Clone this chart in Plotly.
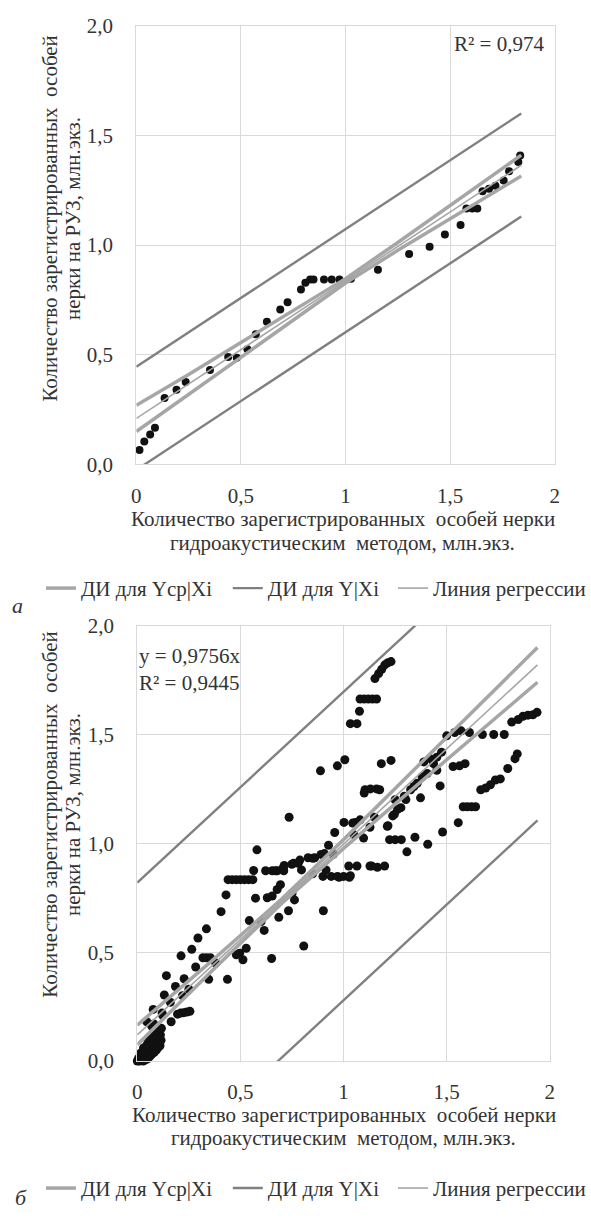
import plotly.graph_objects as go

# ---------------- panel (а) ----------------
x_a = [0.015, 0.038, 0.066, 0.089, 0.135, 0.192, 0.236, 0.352, 0.439, 0.48, 0.531,
       0.571, 0.624, 0.688, 0.723, 0.787, 0.808, 0.831, 0.847, 0.897, 0.934, 0.971,
       1.026, 1.155, 1.304, 1.402, 1.475, 1.55, 1.578, 1.606, 1.63, 1.655, 1.686,
       1.717, 1.756, 1.782, 1.826, 1.835]
y_a = [0.066, 0.105, 0.136, 0.167, 0.303, 0.340, 0.376, 0.431, 0.49, 0.486, 0.525,
       0.594, 0.651, 0.706, 0.739, 0.798, 0.828, 0.843, 0.843, 0.843, 0.843, 0.843,
       0.847, 0.888, 0.959, 0.992, 1.048, 1.092, 1.167, 1.167, 1.167, 1.245, 1.257,
       1.271, 1.294, 1.336, 1.379, 1.408]

# confidence band for the mean response (upper / lower)
ci_x_a = [0, 0.25, 0.5, 0.75, 1.0, 1.25, 1.5, 1.84]
ci_up_a = [0.27, 0.41, 0.556, 0.70, 0.847, 1.012, 1.18, 1.41]
ci_lo_a = [0.15, 0.32, 0.49, 0.66, 0.827, 0.976, 1.12, 1.315]
# prediction band for individual values
pi_x_a = [0, 1.84]
pi_up_a = [0.445, 1.60]
pi_lo_a = [-0.025, 1.13]
# fitted regression line
reg_x_a = [0, 1.84]
reg_y_a = [0.21, 1.364]

# ---------------- panel (б) ----------------
pts_b = [
    (0.00, 0.00), (0.005, 0.01), (0.01, 0.0), (0.012, 0.02), (0.018, 0.005), (0.02, 0.015),
    (0.025, 0.03), (0.028, 0.0), (0.03, 0.01), (0.035, 0.02), (0.038, 0.04), (0.04, 0.005),
    (0.045, 0.025), (0.048, 0.05), (0.05, 0.01), (0.055, 0.035), (0.058, 0.06), (0.06, 0.02),
    (0.065, 0.045), (0.068, 0.07), (0.07, 0.03), (0.075, 0.055), (0.08, 0.08), (0.082, 0.04),
    (0.085, 0.065), (0.09, 0.09), (0.092, 0.05), (0.095, 0.075), (0.10, 0.10), (0.10, 0.06),
    (0.105, 0.085), (0.108, 0.11), (0.11, 0.07), (0.112, 0.12), (0.115, 0.095), (0.03, 0.06),
    (0.05, 0.08), (0.06, 0.10), (0.07, 0.11), (0.08, 0.12), (0.015, 0.035), (0.04, 0.065),
    (0.046, 0.18), (0.07, 0.16), (0.09, 0.14), (0.117, 0.15), (0.123, 0.21), (0.077, 0.237),
    (0.164, 0.18), (0.131, 0.303), (0.141, 0.392), (0.185, 0.342), (0.219, 0.30), (0.227, 0.378),
    (0.195, 0.215), (0.21, 0.22), (0.225, 0.222), (0.24, 0.225), (0.255, 0.228), (0.212, 0.483),
    (0.264, 0.513), (0.283, 0.432), (0.294, 0.565), (0.335, 0.607), (0.318, 0.474), (0.336, 0.474),
    (0.354, 0.474), (0.346, 0.375), (0.406, 0.686), (0.43, 0.763), (0.437, 0.375), (0.44, 0.833),
    (0.46, 0.833), (0.48, 0.833), (0.50, 0.833), (0.52, 0.833), (0.54, 0.833), (0.56, 0.833),
    (0.48, 0.488), (0.496, 0.495), (0.512, 0.465), (0.528, 0.518), (0.543, 0.645), (0.564, 0.875),
    (0.573, 0.748), (0.58, 0.97), (0.615, 0.60), (0.622, 0.874), (0.651, 0.471), (0.654, 0.874),
    (0.67, 0.874), (0.678, 0.874), (0.71, 0.874), (0.63, 0.75), (0.654, 0.758), (0.678, 0.788),
    (0.694, 0.81), (0.686, 0.66), (0.706, 0.886), (0.712, 0.898), (0.733, 0.69), (0.736, 1.12),
    (0.749, 0.904), (0.757, 0.908), (0.762, 0.74), (0.78, 0.908), (0.788, 0.923), (0.796, 0.878),
    (0.807, 0.528), (0.828, 0.934), (0.851, 0.931), (0.86, 0.934), (0.888, 1.333), (0.891, 0.949),
    (0.90, 0.848), (0.902, 0.69), (0.907, 0.953), (0.915, 0.878), (0.927, 0.991), (0.94, 0.848),
    (0.957, 1.05), (0.97, 1.356), (0.97, 0.848), (0.978, 0.844), (1.0, 0.848), (1.002, 1.096),
    (1.006, 1.384), (1.025, 0.896), (1.028, 0.844), (1.033, 0.851), (1.033, 1.55), (1.044, 1.093),
    (1.057, 1.096), (1.065, 0.896), (1.065, 1.55), (1.077, 1.607), (1.08, 1.663), (1.10, 1.663),
    (1.12, 1.663), (1.14, 1.663), (1.16, 1.663), (1.08, 1.108), (1.097, 1.024), (1.10, 1.231),
    (1.104, 1.246), (1.128, 1.074), (1.128, 0.896), (1.13, 1.25), (1.136, 0.896), (1.152, 1.757),
    (1.16, 1.25), (1.164, 0.89), (1.17, 1.78), (1.175, 1.246), (1.183, 1.366), (1.185, 1.80),
    (1.199, 0.896), (1.20, 1.82), (1.212, 1.078), (1.215, 1.081), (1.215, 1.83), (1.223, 1.017),
    (1.23, 1.381), (1.23, 1.835), (1.238, 1.126), (1.246, 1.133), (1.25, 1.017), (1.262, 1.156),
    (1.278, 1.164), (1.28, 1.017), (1.294, 1.216), (1.302, 1.201), (1.307, 0.961), (1.325, 1.246),
    (1.341, 1.261), (1.346, 1.028), (1.357, 1.276), (1.373, 1.209), (1.381, 1.306), (1.389, 1.374),
    (1.405, 1.321), (1.408, 0.996), (1.42, 1.389), (1.436, 1.366), (1.452, 1.396), (1.452, 1.336),
    (1.468, 1.264), (1.475, 1.419), (1.48, 1.052), (1.50, 1.494), (1.531, 1.353), (1.539, 1.509),
    (1.556, 1.095), (1.562, 1.356), (1.57, 1.517), (1.58, 1.168), (1.589, 1.366), (1.60, 1.168),
    (1.61, 1.509), (1.62, 1.168), (1.64, 1.168), (1.665, 1.246), (1.673, 1.50), (1.689, 1.254),
    (1.712, 1.269), (1.728, 1.50), (1.736, 1.291), (1.76, 1.296), (1.779, 1.50), (1.796, 1.344),
    (1.815, 1.557), (1.831, 1.389), (1.842, 1.411), (1.847, 1.569), (1.87, 1.584), (1.894, 1.589),
    (1.918, 1.591), (1.938, 1.602),
    (0.08, 0.17), (0.12, 0.22), (0.16, 0.27), (0.25, 0.33), (0.38, 0.45), (0.6, 0.64),
    (0.75, 0.77), (0.85, 0.86), (0.95, 0.95), (1.05, 1.04), (1.15, 1.12), (1.25, 1.20),
]
x_b = [p[0] for p in pts_b]
y_b = [p[1] for p in pts_b]

ci_x_b = [0, 0.35, 0.7, 1.0, 1.4, 1.94]
ci_up_b = [0.165, 0.451, 0.744, 1.017, 1.393, 1.90]
ci_lo_b = [0.075, 0.403, 0.724, 0.977, 1.303, 1.74]
pi_x_b = [0, 1.94]
pi_up_b = [0.82, 2.52]
pi_lo_b = [-0.60, 1.105]
reg_x_b = [0, 1.94]
reg_y_b = [0.12, 1.82]

# axis ticks
x_ticks = [0, 0.5, 1, 1.5, 2]
x_tick_text = ["0", "0,5", "1", "1,5", "2"]
y_ticks = [0, 0.5, 1.0, 1.5, 2.0]
y_tick_text = ["0,0", "0,5", "1,0", "1,5", "2,0"]

names = ["ДИ для Yср|Xi", "ДИ для Y|Xi", "Линия регрессии"]
x_title = ["Количество зарегистрированных  особей нерки",
           "гидроакустическим  методом, млн.экз."]
y_title = ["Количество зарегистрированных  особей", "нерки на РУЗ, млн.экз."]

FONT = "Liberation Serif"
FS = 21
TXT = "#333333"
CI_COL = "#a6a6a6"
PI_COL = "#808080"
REG_COL = "#a6a6a6"
W, H = 591, 1221

fig = go.Figure()


def add_panel(xa, ya, px, py, msize, cx, cu, cl, pxl, pu, pl, rx, ry, legends):
    fig.add_trace(go.Scatter(x=px, y=py, mode="markers", xaxis=xa, yaxis=ya,
                             marker=dict(color="#111111", size=msize),
                             cliponaxis=False, showlegend=False, hoverinfo="skip"))
    for i, yy in enumerate([cu, cl]):
        fig.add_trace(go.Scatter(x=cx, y=yy, mode="lines", xaxis=xa, yaxis=ya,
                                 line=dict(color=CI_COL, width=3.5), name=names[0],
                                 legendgroup=legends[0], legend=legends[0],
                                 showlegend=(i == 0)))
    for i, yy in enumerate([pu, pl]):
        fig.add_trace(go.Scatter(x=pxl, y=yy, mode="lines", xaxis=xa, yaxis=ya,
                                 line=dict(color=PI_COL, width=2.4), name=names[1],
                                 legendgroup=legends[1], legend=legends[1],
                                 showlegend=(i == 0)))
    fig.add_trace(go.Scatter(x=rx, y=ry, mode="lines", xaxis=xa, yaxis=ya,
                             line=dict(color=REG_COL, width=1.6), name=names[2],
                             legend=legends[2], showlegend=True))


add_panel("x", "y", x_a, y_a, 8, ci_x_a, ci_up_a, ci_lo_a, pi_x_a, pi_up_a, pi_lo_a,
          reg_x_a, reg_y_a, ["legend", "legend2", "legend3"])
add_panel("x2", "y2", x_b, y_b, 9, ci_x_b, ci_up_b, ci_lo_b, pi_x_b, pi_up_b, pi_lo_b,
          reg_x_b, reg_y_b, ["legend4", "legend5", "legend6"])

axis_common = dict(range=[0, 2], showgrid=True, gridcolor="#d9d9d9", gridwidth=1.2,
                   showline=True, linecolor="#d9d9d9", linewidth=1.2, mirror=True,
                   zeroline=False, ticks="", fixedrange=True,
                   tickfont=dict(family=FONT, size=FS, color=TXT))


def legend_at(x_px, y_px):
    # one legend entry, its line sample starting near x_px
    return dict(orientation="h", x=(x_px - 6) / W, xanchor="left", y=1 - y_px / H,
                yanchor="middle", font=dict(family=FONT, size=FS, color=TXT),
                bgcolor="rgba(0,0,0,0)", itemwidth=30, borderwidth=0)


legend_x = [43, 235, 405]

fig.update_layout(
    width=W, height=H,
    margin=dict(l=0, r=0, t=0, b=0),
    paper_bgcolor="white", plot_bgcolor="white",
    font=dict(family=FONT, size=FS, color=TXT),
    xaxis=dict(domain=[135 / W, 565 / W], anchor="y", tickvals=x_ticks, ticktext=x_tick_text,
               ticklabelstandoff=12, **axis_common),
    yaxis=dict(domain=[1 - 461.5 / H, 1 - 14 / H], anchor="x", tickvals=y_ticks,
               ticktext=y_tick_text, ticklabelstandoff=18, **axis_common),
    xaxis2=dict(domain=[136 / W, 560 / W], anchor="y2", tickvals=x_ticks, ticktext=x_tick_text,
                ticklabelstandoff=12, **axis_common),
    yaxis2=dict(domain=[1 - 1070 / H, 1 - 626 / H], anchor="x2", tickvals=y_ticks,
                ticktext=y_tick_text, ticklabelstandoff=18, **axis_common),
    legend=legend_at(legend_x[0], 588),
    legend2=legend_at(legend_x[1], 588),
    legend3=legend_at(legend_x[2], 588),
    legend4=legend_at(legend_x[0], 1200),
    legend5=legend_at(legend_x[1], 1200),
    legend6=legend_at(legend_x[2], 1200),
)


def note(text, x, y, xanchor="center", angle=0, size=FS, align="center"):
    return dict(text=text, x=x / W, y=1 - y / H, xref="paper", yref="paper",
                xanchor=xanchor, yanchor="middle", showarrow=False, textangle=angle,
                font=dict(family=FONT, size=size, color=TXT), align=align)


annotations = [
    # axis titles, panel (а)
    note(x_title[0], 347, 517), note(x_title[1], 347, 542),
    note(y_title[0], 46, 211, angle=-90), note(y_title[1], 70, 211, angle=-90),
    # axis titles, panel (б)
    note(x_title[0], 348, 1125), note(x_title[1], 348, 1149),
    note(y_title[0], 46, 819, angle=-90), note(y_title[1], 70, 819, angle=-90),
    # statistics
    note("R² = 0,974", 556, 33, xanchor="right"),
    note("y = 0,9756x<br>R² = 0,9445", 136, 671, xanchor="left", align="left"),
    # panel letters
    note("<i>а</i>", 5, 605, xanchor="left", size=22),
    note("<i>б</i>", 8, 1209, xanchor="left", size=22),
]
fig.update_layout(annotations=annotations)

fig.write_html(
    "out.html",
    post_script="document.body.style.margin='0';document.body.style.overflow='hidden';",
)
